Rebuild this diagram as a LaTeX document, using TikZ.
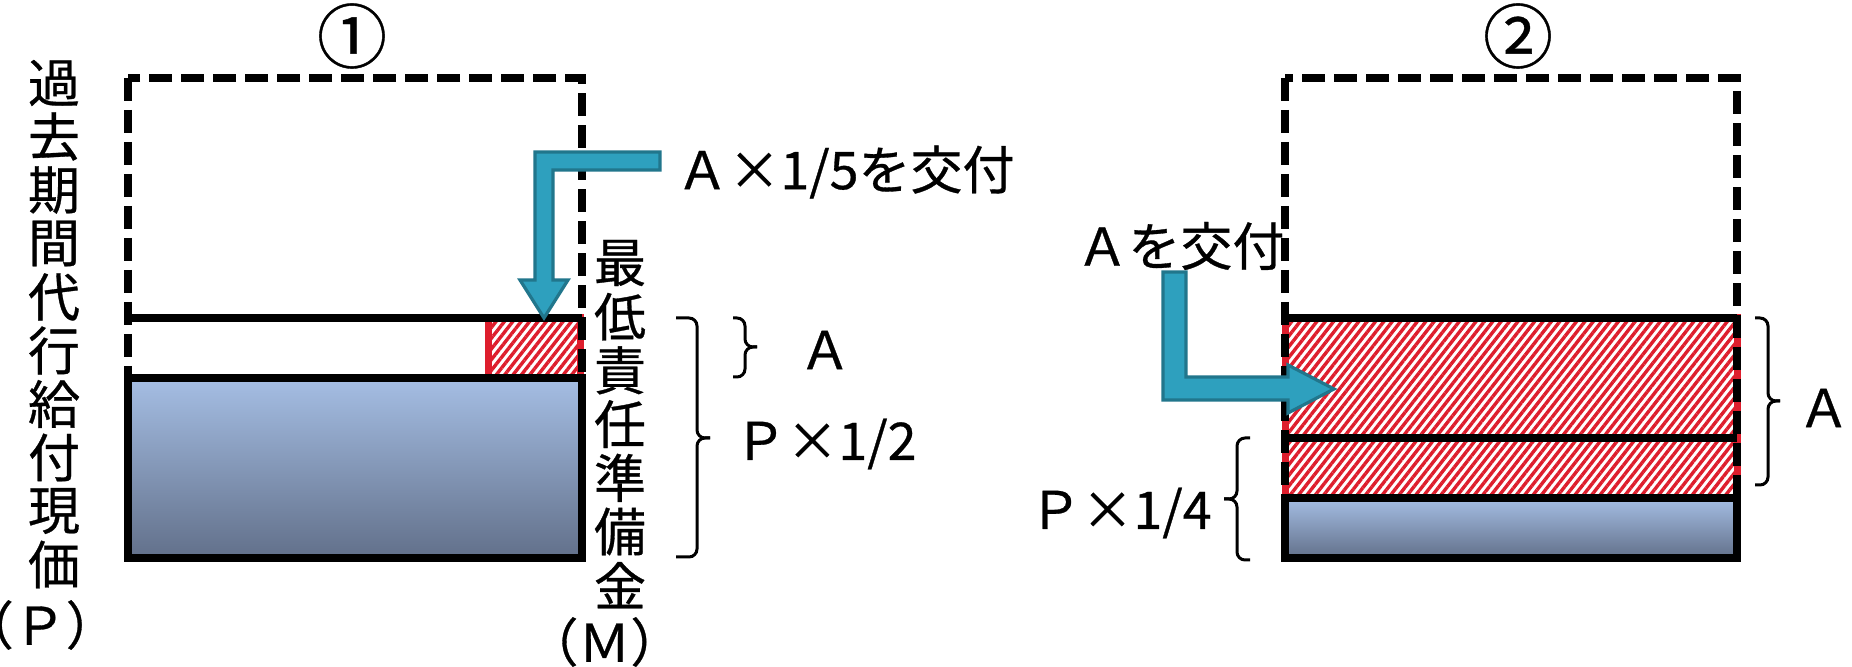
\documentclass[tikz,border=0pt]{standalone}
\usepackage{fontspec}
\setmainfont{Noto Sans CJK JP}[FakeBold=0.6]
\usetikzlibrary{patterns.meta}
\definecolor{teal1}{RGB}{46,160,190}
\definecolor{teal2}{RGB}{33,118,140}
\definecolor{hred}{RGB}{222,30,45}
\definecolor{btop}{RGB}{165,190,228}
\definecolor{bbot}{RGB}{98,112,138}
\begin{document}
\begin{tikzpicture}[x=0.5pt,y=-0.5pt,
  dashbox/.style={line width=3.6pt, dash pattern=on 11.5pt off 4.5pt},
  solidline/.style={line width=3.8pt},
  hatch/.style={pattern={Lines[angle=52,distance=3.3pt,line width=1.7pt]},pattern color=hred},
  bluebox/.style={top color=btop,bottom color=bbot, draw=black, line width=3.6pt},
  bentarrow/.style={fill=teal1,draw=teal2,line width=1.6pt,line join=miter},
  bracestyle/.style={line width=1.5pt, rounded corners=4pt},
  lbl/.style={font=\fontsize{26}{30}\selectfont, inner sep=0pt},
  circ/.style={font=\fontsize{35}{40}\selectfont, inner sep=0pt}]
\path[fill=white] (0,0) rectangle (1852,667);
\useasboundingbox (0,0) rectangle (1852,667);

% ---------- panel 1 ----------
\node[circ] (c1) at (352,36) {①};
\path[hatch, draw=hred, line width=3.5pt] (488,318) rectangle (580,378);
\draw[dashbox] (128,78) rectangle (582,558);
\draw[bluebox] (128,378) rectangle (582,558);
\draw[solidline] (128,318) -- (582,318);
\coordinate (a1t) at (544,318);
\draw[bentarrow] (660,152) -- (535,152) -- (535,280) -- (520,280) -- (a1t) -- (568,280) -- (553,280) -- (553,170) -- (660,170) -- cycle;
\node[lbl, anchor=west] (t1) at (676,172) {Ａ×1/5を交付};

\foreach \c [count=\i from 0] in {過,去,期,間,代,行,給,付,現,価}
  \node[lbl] (p\i) at (54,83+\i*53.5) {\c};
\node[lbl] (pP) at (58,625) {\hspace{-0.7em}（Ｐ）\hspace{-0.7em}};

\foreach \c [count=\i from 0] in {最,低,責,任,準,備,金}
  \node[lbl] (m\i) at (620,263+\i*53.7) {\c};
\node[lbl] (mM) at (620,642) {\hspace{-0.6em}（Ｍ）\hspace{-0.6em}};

% braces panel 1
\draw[bracestyle] (733,318) -- (745,318) -- (745,347) -- (757,347);
\draw[bracestyle] (733,377) -- (745,377) -- (745,347) -- (757,347);
\node[lbl] (tA1) at (825,350) {Ａ};
\draw[bracestyle] (676,318) -- (697,318) -- (697,438) -- (710,438);
\draw[bracestyle] (676,557) -- (697,557) -- (697,438) -- (710,438);
\node[lbl, anchor=west] (tP2) at (734,444) {Ｐ×1/2};

% ---------- panel 2 ----------
\node[circ] (c2) at (1518,36) {②};
\path[hatch, draw=hred, line width=3.5pt] (1285,318) rectangle (1737,498);
\draw[dashbox] (1285,78) rectangle (1737,558);
\draw[bluebox] (1285,498) rectangle (1737,558);
\draw[solidline] (1285,318) -- (1737,318);
\draw[solidline] (1285,438) -- (1737,438);
\node[lbl, anchor=west] (t2) at (1076,246) {Ａを交付};
\coordinate (a2t) at (1334,389);
\draw[bentarrow] (1163,272) -- (1163,400) -- (1288,400) -- (1288,413) -- (a2t) -- (1288,365) -- (1288,377) -- (1186,377) -- (1186,272) -- cycle;

\draw[bracestyle] (1755,318) -- (1768,318) -- (1768,401) -- (1780,401);
\draw[bracestyle] (1755,485) -- (1768,485) -- (1768,401) -- (1780,401);
\node[lbl] (tA2) at (1829,408) {\hspace{-0.2em}Ａ\hspace{-0.2em}};
\draw[bracestyle] (1250,438) -- (1237,438) -- (1237,499) -- (1224,499);
\draw[bracestyle] (1250,560) -- (1237,560) -- (1237,499) -- (1224,499);
\node[lbl, anchor=east] (tP4) at (1212,513) {Ｐ×1/4};
\end{tikzpicture}
\end{document}
